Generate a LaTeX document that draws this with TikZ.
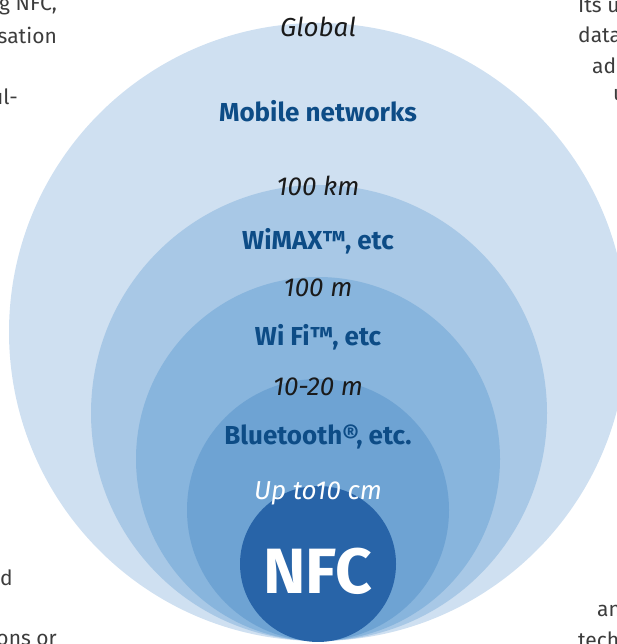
\documentclass[tikz,border=0pt]{standalone}
\usepackage{fontspec}
\setmainfont{Fira Sans}
\usetikzlibrary{positioning}
\definecolor{Sky1}{HTML}{CFE0F1}
\definecolor{Sky2}{HTML}{A8C8E6}
\definecolor{Sky3}{HTML}{88B5DD}
\definecolor{Sky4}{HTML}{6EA3D3}
\definecolor{Cobalt}{HTML}{2864A8}
\definecolor{Navy}{HTML}{0D4C86}
\definecolor{Ink}{HTML}{1A1A1A}
\definecolor{Ink70}{HTML}{3C3C3C}
\tikzstyle{distlabel} = [font=\itshape\fontsize{26}{30}\selectfont, text=Ink, inner sep=0pt]
\tikzstyle{techlabel} = [font=\bfseries\fontsize{26}{30}\selectfont, text=Navy, inner sep=0pt]
\tikzstyle{pagetext} = [font=\fontsize{21}{25}\selectfont, text=Ink70, inner sep=0pt]

\begin{document}
\begin{tikzpicture}[x=1pt, y=1pt]
\useasboundingbox (0,0) rectangle (617,644);

% Range circles, all touching at the bottom
\fill[Sky1] (318,312) circle (309);
\fill[Sky2] (319,231) circle (228);
\fill[Sky3] (318,185) circle (182);
\fill[Sky4] (318,134) circle (131);
\fill[Cobalt] (318,80) circle (78);

% Ranges and technologies
\node (global) [distlabel] at (318,617) {Global};
\node (mobile) [techlabel] at (318,533) {Mobile networks};
\node (km) [distlabel] at (318,458) {100 km};
\node (wimax) [techlabel] at (318,403) {WiMAX™, etc};
\node (hundredm) [distlabel] at (318,356) {100 m};
\node (wifi) [techlabel] at (318,307) {Wi Fi™, etc};
\node (tenm) [distlabel] at (318,257) {10-20 m};
\node (bluetooth) [techlabel] at (318,207) {Bluetooth®, etc.};
\node (cm) [distlabel, text=white] at (318,151) {Up to10 cm};
\node (nfc) [font=\bfseries\fontsize{64}{72}\selectfont, text=white] at (318,73) {NFC};

% Page text cut by the frame
\node (lefta) [pagetext, anchor=east] at (57,639) {g NFC,};
\node (leftb) [pagetext, anchor=east] at (57,609) {sation};
\node (leftc) [pagetext, anchor=east] at (18,547) {ul-};
\node (leftd) [pagetext, anchor=east] at (13,66) {d};
\node (lefte) [pagetext, anchor=east] at (57,4) {ons or};
\node (righta) [pagetext, anchor=west] at (578,639) {Its u};
\node (rightb) [pagetext, anchor=west] at (578,609) {data};
\node (rightc) [pagetext, anchor=west] at (592,578) {add};
\node (rightd) [pagetext, anchor=west] at (613,549) {u};
\node (righte) [pagetext, anchor=west] at (597,33) {an};
\node (rightf) [pagetext, anchor=west] at (578,4) {tech};

\end{tikzpicture}
\end{document}
